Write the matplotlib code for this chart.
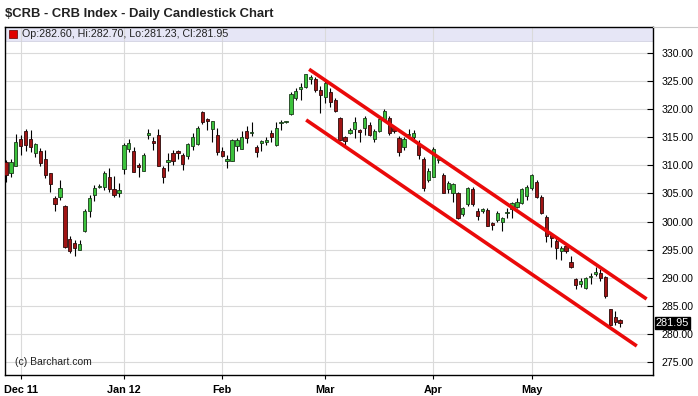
import matplotlib
matplotlib.use("Agg")
from matplotlib import pyplot as plt
from matplotlib.lines import Line2D
import numpy as np

plt.rcParams['font.family'] = ['Liberation Sans', 'DejaVu Sans']

# daily OHLC, Nov 28 2011 .. May 24 2012
opens = [310.6, 308.6, 309.8, 314.6, 316.0, 314.6, 312.2, 312.6, 311.1, 308.6,
         304.1, 304.4, 302.8, 296.9, 296.2, 295.0, 298.4, 301.8, 304.8, 306.1,
         306.1, 308.0, 305.7, 305.0, 309.3, 312.9, 312.5, 310.0, 309.0, 315.3,
         314.3, 315.4, 309.5, 310.6, 312.1, 312.5, 311.8, 311.7, 313.4, 313.8,
         319.4, 318.2, 316.4, 315.4, 312.6, 310.8, 310.8, 313.4, 312.9, 316.1,
         315.8, 313.3, 313.9, 314.2, 315.8, 313.6, 317.5, 317.6, 319.1, 322.0,
         323.5, 323.9, 325.4, 325.3, 323.3, 322.2, 323.1, 321.6, 318.4, 315.0,
         315.8, 316.4, 316.3, 316.6, 317.2, 314.6, 316.1, 318.2, 318.4, 316.6,
         314.8, 313.2, 315.4, 315.0, 313.6, 311.2, 307.4, 308.0, 311.0, 308.3,
         305.7, 305.1, 305.0, 301.4, 303.1, 305.7, 301.9, 301.8, 302.1, 299.7,
         300.2, 300.0, 301.5, 302.2, 302.6, 303.3, 304.5, 305.9, 307.1, 304.4,
         300.9, 297.7, 296.6, 294.8, 295.6, 292.9, 289.8, 289.0, 288.2, 290.1,
         290.7, 290.9, 290.1, 284.4, 283.1, 282.60]
highs = [310.9, 311.2, 315.6, 315.4, 316.4, 316.3, 314.0, 313.0, 312.7, 308.6,
         304.5, 307.4, 302.9, 297.4, 296.8, 296.8, 302.2, 304.7, 306.5, 306.7,
         308.9, 309.6, 308.1, 306.9, 313.9, 314.6, 313.3, 310.4, 312.1, 316.4,
         315.1, 316.4, 309.9, 312.2, 312.7, 312.7, 312.1, 314.0, 315.7, 316.9,
         319.7, 318.4, 317.9, 316.6, 313.2, 311.8, 314.6, 314.8, 316.0, 317.0,
         317.7, 313.6, 314.5, 315.1, 316.3, 317.6, 318.0, 317.9, 323.1, 323.7,
         324.6, 326.3, 326.0, 325.7, 324.0, 325.0, 323.7, 321.9, 318.6, 315.2,
         316.6, 318.6, 316.4, 318.8, 317.6, 316.4, 318.4, 320.0, 318.8, 317.0,
         315.2, 315.0, 316.4, 316.2, 314.5, 311.5, 309.5, 313.2, 311.5, 308.7,
         307.2, 306.8, 305.3, 302.6, 306.2, 306.1, 302.5, 302.5, 302.4, 300.0,
         301.8, 300.9, 302.5, 303.5, 304.2, 306.0, 306.5, 308.5, 307.4, 304.7,
         301.2, 298.0, 297.0, 295.6, 296.2, 293.8, 290.0, 290.0, 290.2, 290.8,
         292.0, 291.6, 290.4, 284.4, 284.2, 282.70]
lows = [307.1, 308.0, 309.8, 311.8, 312.6, 312.4, 311.4, 309.9, 307.7, 305.3,
        301.8, 303.8, 295.3, 294.4, 293.8, 295.0, 298.2, 300.9, 303.7, 305.9,
        305.6, 305.3, 304.4, 304.3, 308.5, 312.4, 308.8, 307.9, 308.9, 314.6,
        312.8, 309.9, 306.9, 308.9, 310.0, 311.1, 309.2, 311.2, 312.7, 313.6,
        317.3, 316.3, 314.2, 311.8, 311.5, 309.6, 310.8, 312.6, 312.9, 313.9,
        315.2, 311.5, 312.6, 313.6, 314.2, 313.5, 316.3, 317.5, 318.9, 321.6,
        321.6, 323.7, 324.4, 323.1, 319.2, 321.0, 320.4, 319.5, 314.5, 313.6,
        315.5, 314.8, 314.2, 315.3, 315.2, 314.2, 315.9, 317.9, 315.4, 315.7,
        311.7, 312.8, 314.8, 314.6, 311.2, 305.5, 307.0, 308.0, 310.4, 305.0,
        305.0, 303.5, 300.5, 301.0, 302.8, 302.8, 300.2, 301.5, 299.2, 298.5,
        300.0, 298.4, 300.7, 300.6, 302.4, 303.2, 303.9, 305.6, 304.1, 301.4,
        296.3, 295.5, 293.3, 293.1, 294.5, 291.7, 288.0, 288.3, 288.0, 289.0,
        290.3, 289.4, 286.5, 281.4, 281.6, 281.23]
closes = [308.3, 310.6, 314.1, 313.5, 313.6, 313.2, 313.8, 310.4, 308.3, 306.7,
          303.1, 305.9, 295.4, 294.7, 295.3, 296.0, 301.9, 304.1, 305.9, 306.4,
          308.7, 305.7, 304.8, 305.6, 313.6, 314.0, 308.8, 309.7, 311.8, 315.8,
          314.0, 309.9, 307.9, 311.0, 310.8, 312.1, 310.2, 313.8, 315.0, 316.6,
          317.6, 317.9, 317.9, 312.4, 311.7, 311.1, 314.5, 314.5, 315.1, 314.9,
          315.9, 312.3, 314.3, 314.5, 315.0, 316.6, 317.6, 317.8, 322.6, 323.2,
          323.9, 326.2, 325.6, 323.3, 322.5, 324.7, 321.3, 319.7, 314.5, 314.4,
          316.3, 317.7, 315.9, 318.4, 315.4, 316.1, 318.2, 319.7, 315.7, 316.0,
          312.4, 314.6, 315.5, 315.8, 311.8, 305.9, 308.9, 312.9, 311.2, 305.1,
          306.8, 306.7, 300.6, 302.4, 305.9, 303.1, 301.0, 302.2, 299.2, 299.4,
          301.5, 300.6, 301.7, 303.3, 303.5, 305.7, 306.1, 308.3, 304.4, 301.6,
          297.4, 297.0, 295.3, 295.3, 294.7, 291.9, 288.7, 289.5, 290.0, 290.3,
          291.1, 289.9, 286.7, 281.6, 282.2, 281.95]

month_idx = [3, 24, 44, 65, 87, 107]
month_labels = ['Dec 11', 'Jan 12', 'Feb', 'Mar', 'Apr', 'May']
price_ticks = [275, 280, 285, 290, 295, 300, 305, 310, 315, 320, 325, 330]

# hand-drawn downtrend channel (bar index, price)
channel_x = [61.7, 130.4]
upper_y = [327.05, 286.25]
lower_x = [61.1, 128.4]
lower_y = [318.05, 277.9]

o = np.array(opens)
h = np.array(highs)
l = np.array(lows)
c = np.array(closes)
x = np.arange(len(o))
up = c >= o

fig = plt.figure(figsize=(6.98, 3.96), dpi=100)
ax = fig.add_axes([5 / 698, 21 / 396, 648 / 698, 348 / 396])
ax.set_xlim(-0.2, 131.7)
ax.set_ylim(272.75, 334.56)

# legend band on top of the plot
ax.axhspan(332.08, 334.56, color='#e6e6f6', zorder=0, lw=0)
ax.axhline(332.08, color='#d0d0e0', lw=0.6, zorder=0.6)

ax.grid(True, color='#dadada', lw=0.8, zorder=0.5)
ax.set_axisbelow(True)

ax.vlines(x, l, h, color='black', lw=0.8, zorder=2)
body_lo = np.minimum(o, c)
body_h = np.maximum(np.abs(c - o), 0.12)
ax.bar(x[up], body_h[up], bottom=body_lo[up], width=0.66,
       color='#3cc23c', edgecolor='#1a3a1a', lw=0.6, zorder=3)
ax.bar(x[~up], body_h[~up], bottom=body_lo[~up], width=0.66,
       color='#a01414', edgecolor='#2a0a0a', lw=0.6, zorder=3)

ax.plot(channel_x, upper_y, color='#ea0a0a', lw=2.6, zorder=4,
        solid_capstyle='butt')
ax.plot(lower_x, lower_y, color='#ea0a0a', lw=2.6, zorder=4,
        solid_capstyle='butt')

ax.yaxis.tick_right()
ax.set_yticks(price_ticks)
ax.set_yticklabels(['%.2f' % p for p in price_ticks])
ax.set_xticks(month_idx)
ax.set_xticklabels(month_labels, fontweight='bold')
ax.tick_params(axis='y', direction='in', length=4, pad=6, labelsize=7.6,
               width=0.8)
ax.tick_params(axis='x', direction='out', length=3, pad=4, labelsize=7.8,
               width=0.8)
for s in ax.spines.values():
    s.set_linewidth(1.0)
    s.set_color('black')

# legend text
ax.plot([0.013], [333.32], marker='s', ms=6, color='#e00000',
        mec='#600000', mew=0.5, transform=ax.get_yaxis_transform(),
        zorder=5, clip_on=False)
ax.text(0.027, 333.32, 'Op:282.60, Hi:282.70, Lo:281.23, Cl:281.95',
        transform=ax.get_yaxis_transform(), fontsize=7.7, va='center',
        color='#222222')

ax.text(0.015, 275.0, '(c) Barchart.com', transform=ax.get_yaxis_transform(),
        fontsize=7.5, va='center', color='#222222')

# last price box
ax.text(1.004, c[-1], '%.2f' % c[-1], transform=ax.get_yaxis_transform(),
        fontsize=7.8, va='center', ha='left', color='white',
        bbox=dict(boxstyle='square,pad=0.1', fc='black', ec='black'))

fig.text(5 / 698, 1 - 14 / 396, '$CRB - CRB Index - Daily Candlestick Chart',
         fontsize=9.4, fontweight='bold', va='center', ha='left',
         color='#222222')
fig.add_artist(Line2D([653 / 698, 1], [1 - 27 / 396, 1 - 27 / 396],
                      color='#c8c8c8', lw=0.8))

fig.savefig('out.png', dpi=100, facecolor='white')
